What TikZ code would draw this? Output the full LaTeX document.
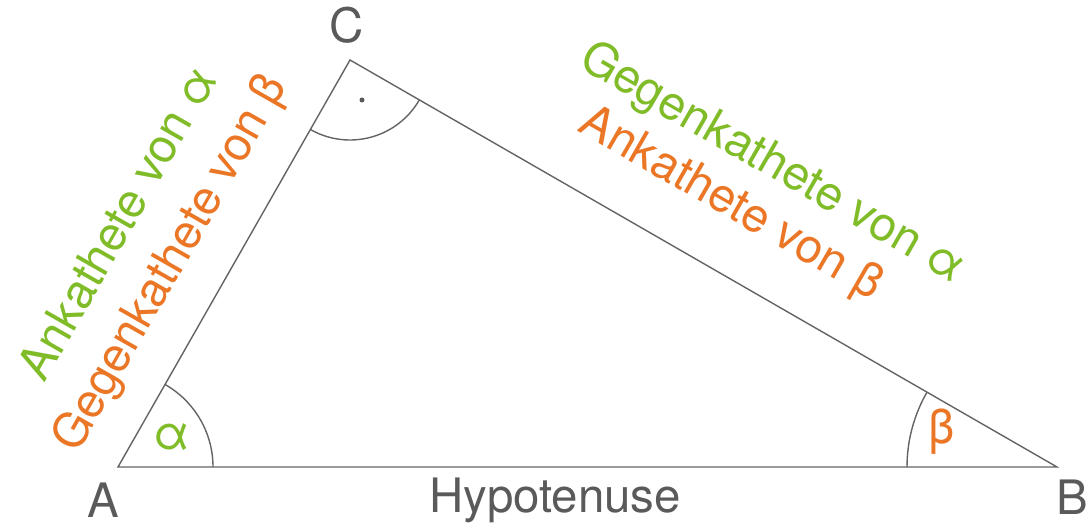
\documentclass[tikz,border=0pt]{standalone}
\usepackage{fontspec}
\setmainfont{TeX Gyre Heros}
\definecolor{lgreen}{RGB}{128,188,40}
\definecolor{lorange}{RGB}{234,118,38}
\definecolor{lgray}{RGB}{100,100,100}
\definecolor{tgray}{RGB}{90,90,90}
\begin{document}
\begin{tikzpicture}[x=0.02cm, y=0.02cm]
	\tikzset{side/.style={draw=lgray, line width=0.8pt},
		corner/.style={text=tgray, font=\fontsize{27}{30}\selectfont},
		lab/.style={font=\fontsize{27}{30}\selectfont, inner sep=0pt}};
	\useasboundingbox (0,0) rectangle (1092,530);
	\coordinate (A) at (118,63);
	\coordinate (B) at (1057,63);
	\coordinate (C) at (350,470);

	\draw[side] (A) -- (B) -- (C) -- cycle;

	% angle arcs
	\draw[side] ([shift={(0:95)}]A) arc (0:60.3:95);
	\draw[side] ([shift={(180:150)}]B) arc (180:150.1:150);
	\draw[side] ([shift={(240.3:80)}]C) arc (240.3:330.1:80);
	\fill[tgray] (362,430) circle (2.5);

	\node[corner] (a) at (103,30) {A};
	\node[corner] (b) at (1072,33) {B};
	\node[corner] (c) at (347,505) {C};
	\node[corner] (hyp) at (555,30) {Hypotenuse};

	\node[lab, text=lgreen] (alpha) at (172,93) {α};
	\node[lab, text=lorange] (beta) at (942,98) {β};

	\node[lab, text=lgreen, rotate=60.3] (ankA) at (117,307) {Ankathete von α};
	\node[lab, text=lorange, rotate=60.3] (gegB) at (172,266) {Gegenkathete von β};
	\node[lab, text=lgreen, rotate=-29.9] (gegA) at (772,366) {Gegenkathete von α};
	\node[lab, text=lorange, rotate=-29.9] (ankB) at (730,325) {Ankathete von β};
\end{tikzpicture}
\end{document}
